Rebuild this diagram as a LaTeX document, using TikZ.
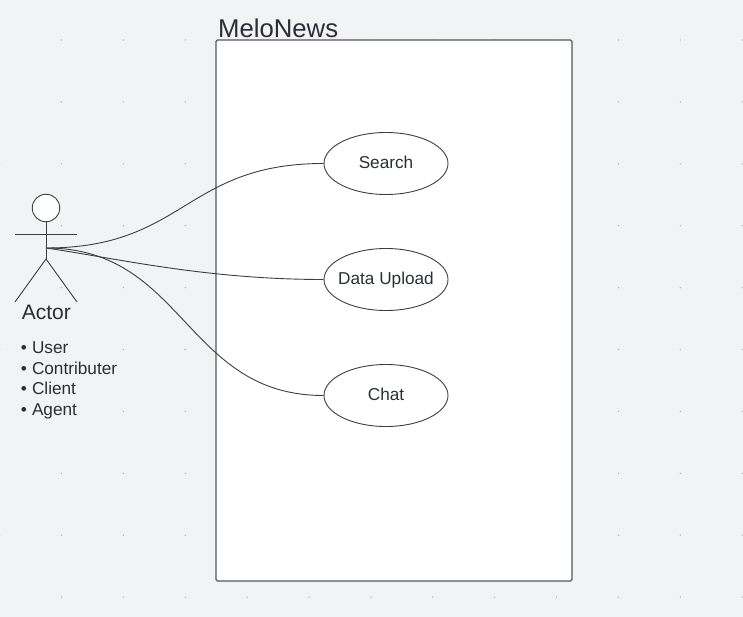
\documentclass[tikz,border=0pt]{standalone}
\usepackage{fontspec}
\setmainfont{Liberation Sans}
\usetikzlibrary{shapes.geometric}
\definecolor{bgc}{HTML}{F1F3F5}
\definecolor{linec}{HTML}{3A3F44}
\definecolor{boxc}{HTML}{55585C}
\definecolor{textc}{HTML}{2B2F33}
\definecolor{gridc}{HTML}{B4B8BC}
\newcommand{\uctext}[1]{\raisebox{-5pt}[0pt][0pt]{\makebox[0pt]{#1}}}
\tikzset{
  usecase/.style={draw=linec,line width=0.9pt,fill=white,ellipse,minimum width=124pt,minimum height=62pt,inner sep=0pt,text=textc,font=\fontsize{17.2}{20}\selectfont},
  sysbox/.style={draw=boxc,line width=1.2pt,fill=white,rounded corners=1.5pt},
  stick/.style={draw=linec,line width=0.9pt},
  assoc/.style={draw=linec,line width=0.9pt},
  griddot/.style={fill=gridc,inner sep=0pt,minimum size=1.6pt,circle},
}
\begin{document}
\begin{tikzpicture}[x=1pt,y=-1pt]
\useasboundingbox (0,0) rectangle (743,617);
\fill[bgc] (0,0) rectangle (743,617);
\foreach \i in {0,...,12}{
  \foreach \j in {0,...,9}{
    \node[griddot] at ({-0.5+61.9*\i},{40+61.9*\j}) {};
  }
}
\draw[sysbox] (216,40) rectangle (572,581);
\node[anchor=base west,inner sep=0pt,text=textc,font=\fontsize{25.7}{30}\selectfont] (title) at (218,38) {MeloNews};
% actor
\node[circle,draw=linec,fill=white,line width=0.9pt,minimum size=27.5pt,inner sep=0pt] (head) at (46,208) {};
\coordinate (hip) at (46,259);
\coordinate (hub) at (46,248);
\coordinate (armL) at (15,234.5);
\coordinate (armR) at (77,234.5);
\coordinate (footL) at (15,302);
\coordinate (footR) at (77,302);
\draw[stick] (head.south) -- (hip);
\draw[stick] (armL) -- (armR);
\draw[stick] (footL) -- (hip) -- (footR);
\node[anchor=base,inner sep=0pt,text=textc,font=\fontsize{21}{25}\selectfont] (actor) at (46.3,319) {Actor};
\node[anchor=north west,inner sep=0pt,align=left,text=textc,font=\fontsize{17.2}{20.7}\selectfont] (roles) at (20.6,341.5) {•\hspace{5.2pt}User\\•\hspace{5.2pt}Contributer\\•\hspace{5.2pt}Client\\•\hspace{5.2pt}Agent};
% use cases
\node[usecase] (search) at (386,163.5) {\uctext{Search}};
\node[usecase] (upload) at (386,279.5) {\uctext{Data Upload}};
\node[usecase] (chat) at (386,395.5) {\uctext{Chat}};
% associations
\draw[assoc] (hub) .. controls (185,248) and (185,163.5) .. (search.west);
\draw[assoc] (hub) .. controls (115,258) and (205,279.5) .. (upload.west);
\draw[assoc] (hub) .. controls (185,248) and (185,395.5) .. (chat.west);
\end{tikzpicture}
\end{document}
